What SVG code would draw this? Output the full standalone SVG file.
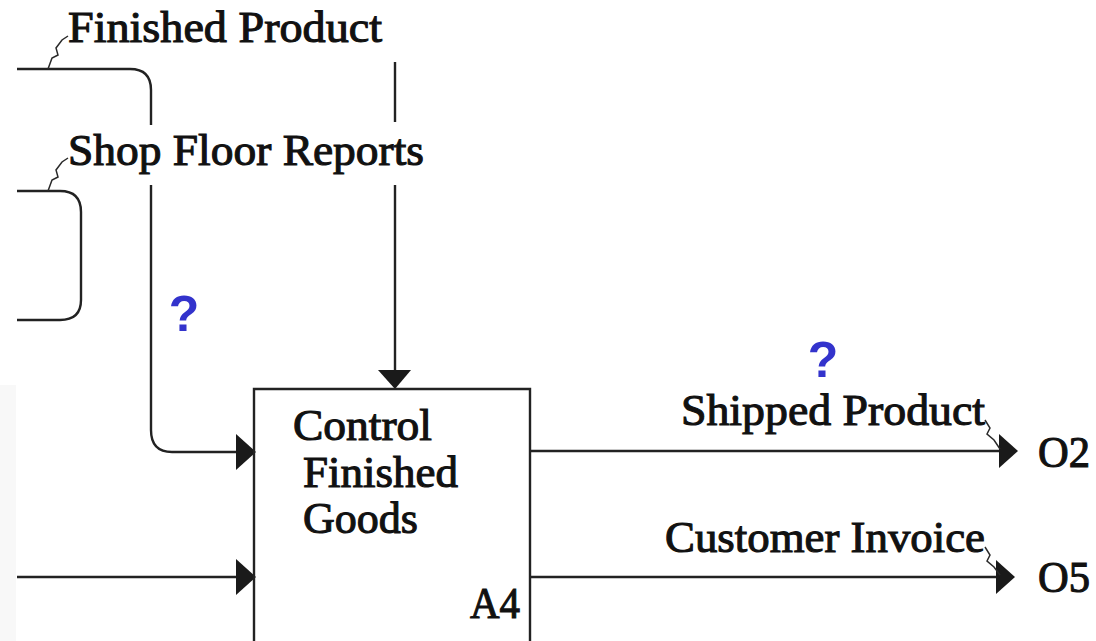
<svg xmlns="http://www.w3.org/2000/svg" width="1096" height="641" viewBox="0 0 1096 641">
<style>
.ln{fill:none;stroke:#222;stroke-width:2.4}
.lead{fill:none;stroke:#2a2a2a;stroke-width:1.5}
.lbl{font-family:"Liberation Serif","Times New Roman",serif;font-size:44px;fill:#111;stroke:#111;stroke-width:1.1}
.q{font-family:"Liberation Sans",Arial,sans-serif;font-size:50px;font-weight:bold;fill:#3333cc}
.ah{fill:#1a1a1a}
</style>
<rect width="1096" height="641" fill="#ffffff"/>
<rect x="0" y="385" width="16" height="256" fill="#f8f8f8"/>
<g id="connectors">
<path class="ln" d="M17,69 H130 Q151,69 151,90 V125"/>
<path class="ln" d="M151,185 V430 Q151,452 172,452 H240"/>
<polygon class="ah" points="236,434 256,452 236,470"/>
<path class="ln" d="M17,191 H60 Q81,191 81,212 V300 Q81,320 60,320 H17"/>
<path class="ln" d="M395,62 V122"/>
<path class="ln" d="M395,185 V372"/>
<polygon class="ah" points="378,370 411,370 395,389"/>
<path class="ln" d="M17,577 H240"/>
<polygon class="ah" points="236,559 256,577 236,595"/>
<path class="ln" d="M530,451 H1002"/>
<polygon class="ah" points="999,434 1018,451 999,468"/>
<path class="ln" d="M530,577 H1000"/>
<polygon class="ah" points="996,560 1015,577 996,594"/>
<path class="lead" d="M48,69 L52,58 L58,55 L56,48 L62,40 L68,36"/>
<path class="lead" d="M48,191 L52,180 L58,177 L56,170 L62,162 L68,158"/>
<path class="lead" d="M985,420 L990,428 L987,434 L994,440 L1000,449"/>
<path class="lead" d="M985,547 L990,555 L987,561 L994,567 L1000,575"/>
</g>
<g id="labels">
<text class="lbl" x="68" y="42" textLength="314" lengthAdjust="spacingAndGlyphs">Finished Product</text>
<text class="lbl" x="68" y="165" textLength="356" lengthAdjust="spacingAndGlyphs">Shop Floor Reports</text>
<text class="lbl" x="681" y="425" textLength="304" lengthAdjust="spacingAndGlyphs">Shipped Product</text>
<text class="lbl" x="665" y="552" textLength="320" lengthAdjust="spacingAndGlyphs">Customer Invoice</text>
<text class="lbl" x="1038" y="467" textLength="52" lengthAdjust="spacingAndGlyphs">O2</text>
<text class="lbl" x="1038" y="592" textLength="52" lengthAdjust="spacingAndGlyphs">O5</text>
<text class="q" x="184" y="331" text-anchor="middle">?</text>
<text class="q" x="823" y="377" text-anchor="middle">?</text>
</g>
<g id="A4">
<path class="ln" d="M254,645 V389 H530 V645"/>
<text class="lbl" x="293" y="440" textLength="139" lengthAdjust="spacingAndGlyphs">Control</text>
<text class="lbl" x="303" y="487" textLength="155" lengthAdjust="spacingAndGlyphs">Finished</text>
<text class="lbl" x="303" y="533" textLength="115" lengthAdjust="spacingAndGlyphs">Goods</text>
<text class="lbl" x="470" y="618" textLength="50" lengthAdjust="spacingAndGlyphs">A4</text>
</g>
</svg>
